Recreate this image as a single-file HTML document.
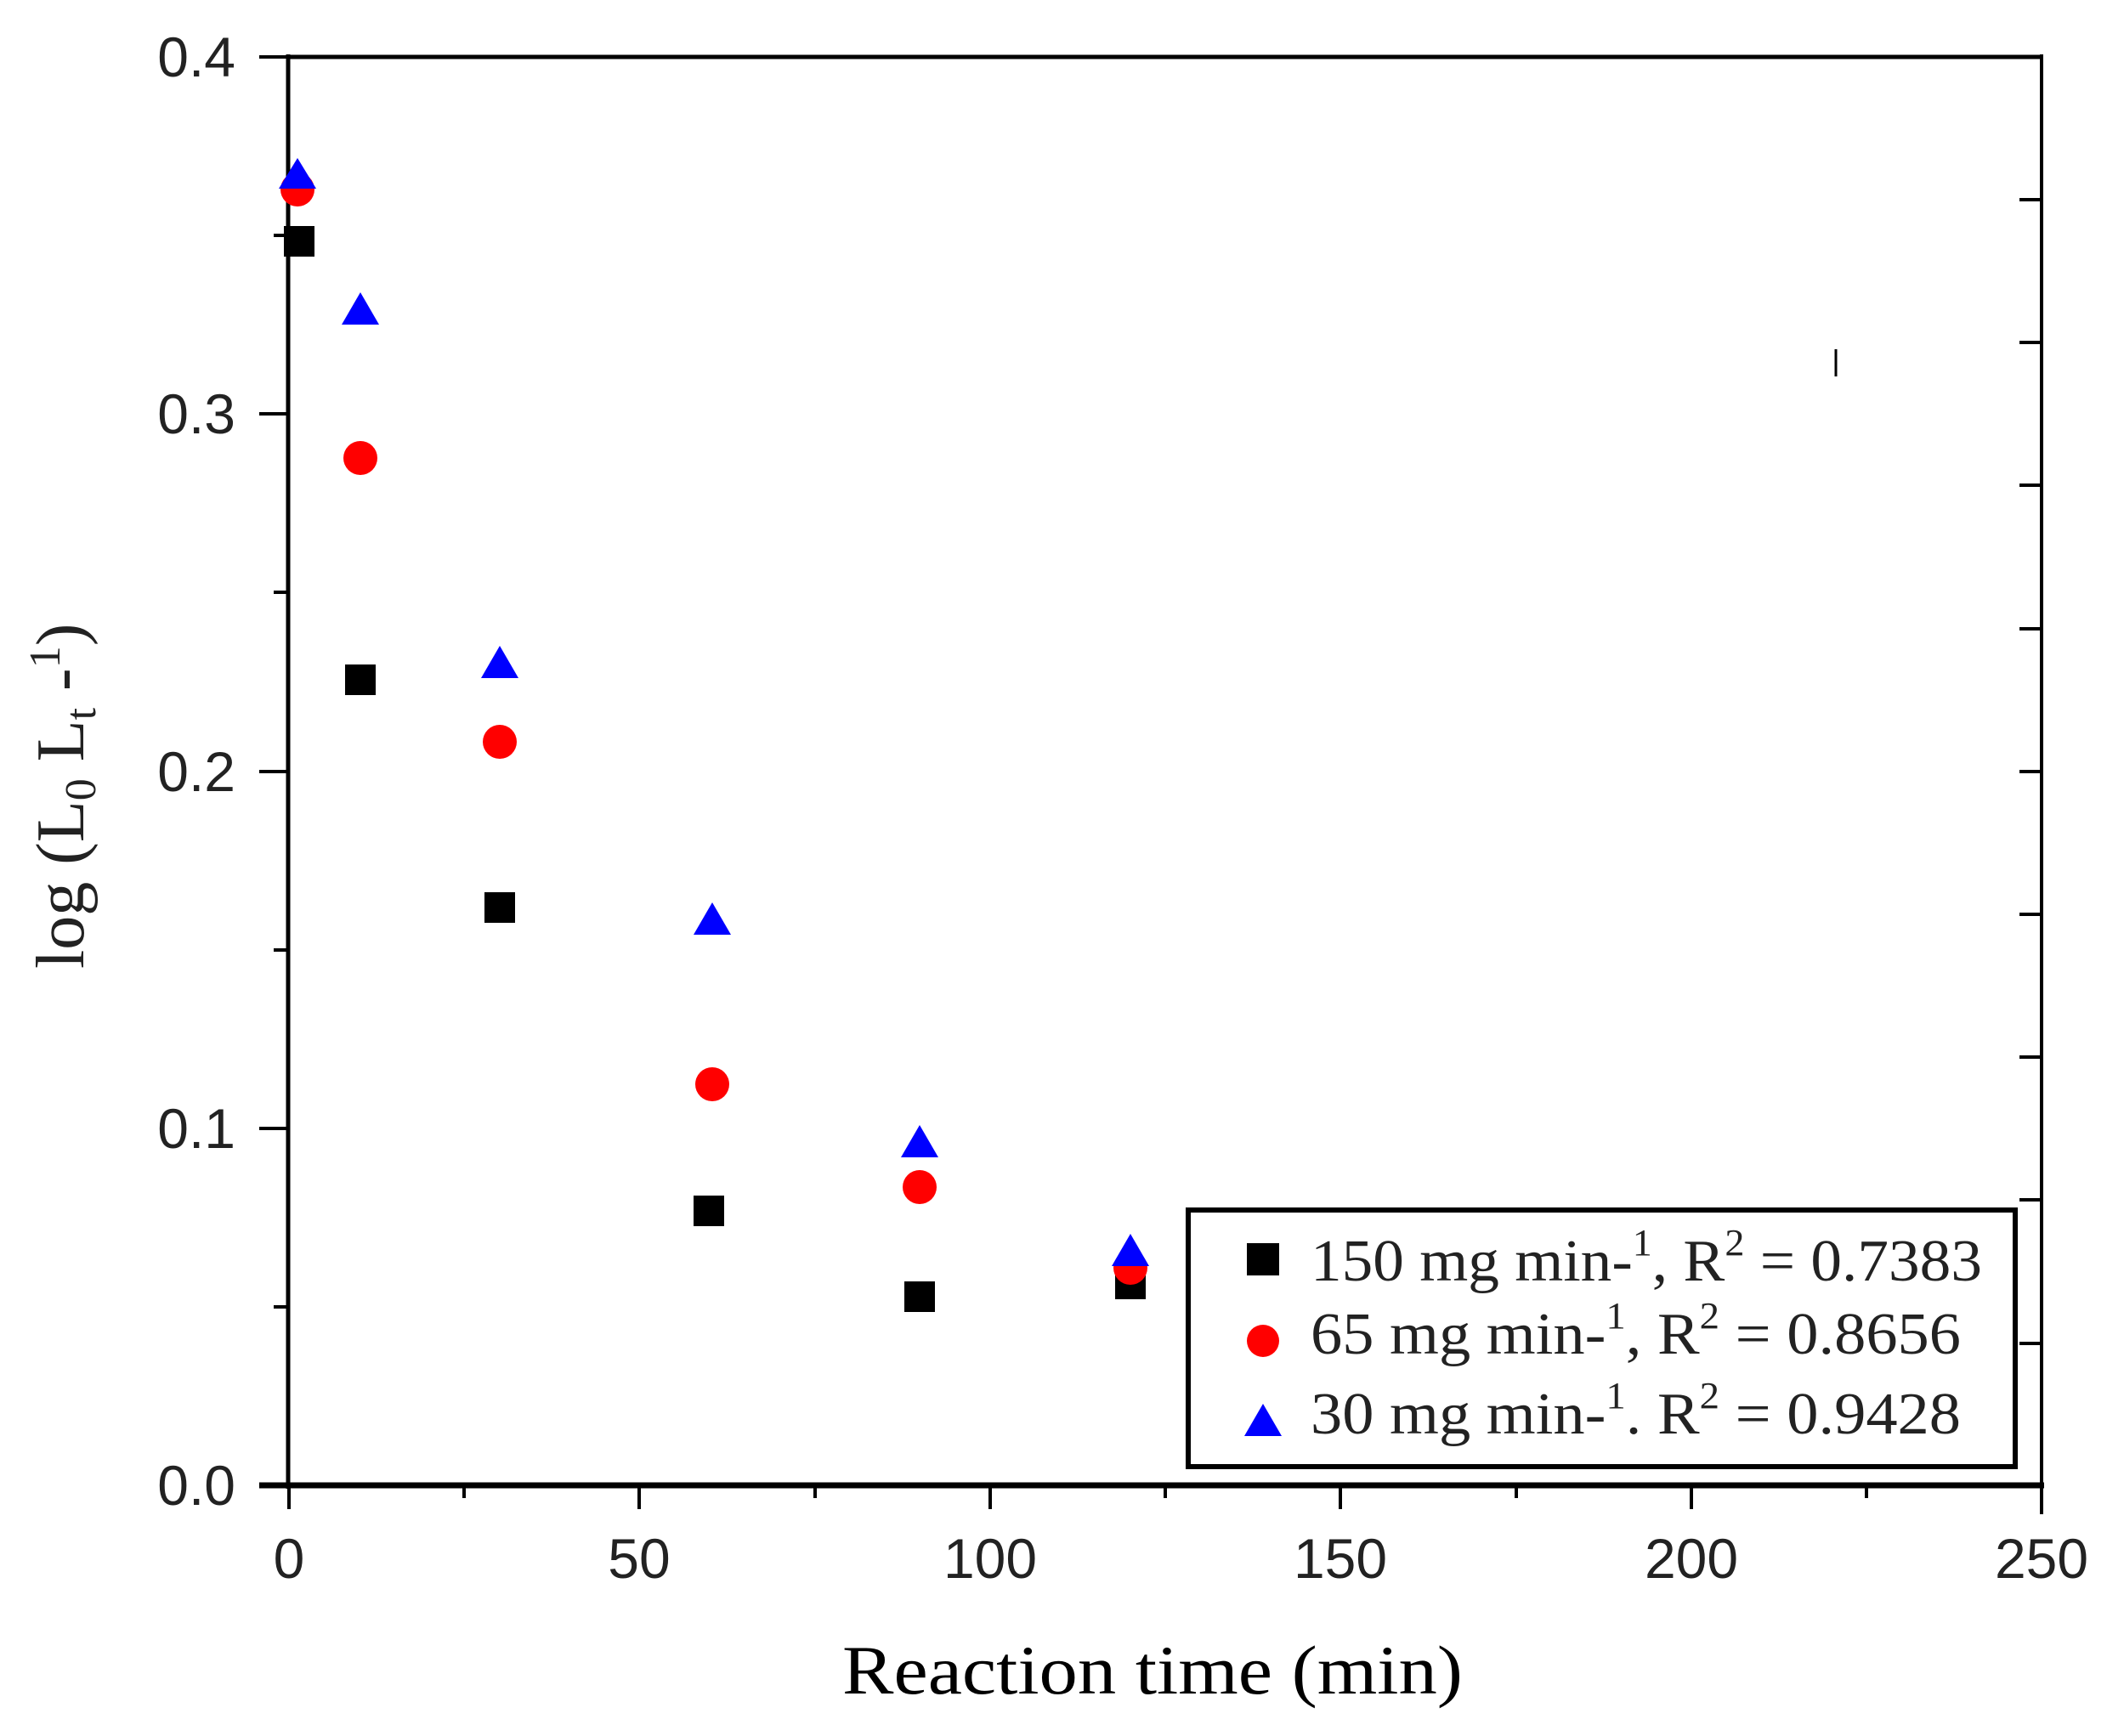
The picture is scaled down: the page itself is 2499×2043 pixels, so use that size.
<!DOCTYPE html>
<html><head><meta charset="utf-8"><style>html,body{margin:0;padding:0;background:#fff}svg{display:block}</style></head>
<body>
<svg width="2499" height="2043" viewBox="0 0 2499 2043" xmlns="http://www.w3.org/2000/svg">
<rect width="2499" height="2043" fill="#fff"/>
<g stroke="#000" fill="none">
  <line x1="340" y1="67" x2="2402" y2="67" stroke-width="5"/>
  <line x1="339" y1="64" x2="339" y2="1752" stroke-width="5"/>
  <line x1="2402" y1="64" x2="2402" y2="1752" stroke-width="4"/>
  <line x1="305" y1="1748" x2="2405" y2="1748" stroke-width="7"/>
  <!-- y ticks left major -->
  <path d="M305 67H339M305 487H339M305 908H339M305 1328H339" stroke-width="4"/>
  <path d="M322 277H339M322 697H339M322 1118H339M322 1538H339" stroke-width="4"/>
  <!-- x ticks -->
  <path d="M340 1748V1776M752 1748V1776M1165 1748V1776M1577 1748V1776M1990 1748V1776M2402 1748V1782" stroke-width="4"/>
  <path d="M546 1748V1763M959 1748V1763M1371 1748V1763M1784 1748V1763M2196 1748V1763" stroke-width="4"/>
  <!-- right inner ticks -->
  <path d="M2376 235H2402M2376 403H2402M2376 571H2402M2376 740H2402M2376 908H2402M2376 1076H2402M2376 1244H2402M2376 1412H2402M2376 1581H2402" stroke-width="4"/>
  <line x1="2160" y1="411" x2="2160" y2="443" stroke-width="3"/>
</g>
<g font-family="Liberation Sans, sans-serif" font-size="66" fill="#222">
  <g text-anchor="end">
    <text x="277" y="90">0.4</text>
    <text x="277" y="510">0.3</text>
    <text x="277" y="931">0.2</text>
    <text x="277" y="1351">0.1</text>
    <text x="277" y="1771">0.0</text>
  </g>
  <g text-anchor="middle">
    <text x="340" y="1857">0</text>
    <text x="752" y="1857">50</text>
    <text x="1165" y="1857">100</text>
    <text x="1577" y="1857">150</text>
    <text x="1990" y="1857">200</text>
    <text x="2402" y="1857">250</text>
  </g>
</g>
<text x="991" y="1993" font-family="Liberation Serif, serif" font-size="82" textLength="730" lengthAdjust="spacingAndGlyphs" fill="#000">Reaction time (min)</text>
<text transform="translate(98,1140) rotate(-90)" font-family="Liberation Serif, serif" font-size="80" fill="#222">log (L<tspan font-size="52" dy="14">0</tspan><tspan dy="-14"> L</tspan><tspan font-size="52" dy="14">t</tspan><tspan dy="-14"> -</tspan><tspan font-size="52" dy="-28">1</tspan><tspan dy="28">)</tspan></text>
<!-- data: black squares -->
<g fill="#000">
  <rect x="334" y="266" width="36" height="36"/>
  <rect x="406" y="782" width="36" height="36"/>
  <rect x="570" y="1050" width="36" height="36"/>
  <rect x="816" y="1407" width="36" height="36"/>
  <rect x="1064" y="1508" width="36" height="36"/>
  <rect x="1312" y="1493" width="36" height="36"/>
</g>
<g fill="#f00">
  <circle cx="350" cy="223" r="20"/>
  <circle cx="424" cy="539" r="20"/>
  <circle cx="588" cy="873" r="20"/>
  <circle cx="838" cy="1276" r="20"/>
  <circle cx="1082" cy="1397" r="20"/>
  <circle cx="1330" cy="1492" r="20"/>
</g>
<g fill="#00f">
  <polygon points="350,186 372,222 328,222"/>
  <polygon points="424,344 446,382 402,382"/>
  <polygon points="588,760 610,798 566,798"/>
  <polygon points="838,1062 860,1100 816,1100"/>
  <polygon points="1082,1324 1104,1362 1060,1362"/>
  <polygon points="1330,1452 1352,1490 1308,1490"/>
</g>
<!-- legend -->
<rect x="1398" y="1424" width="973" height="302" fill="#fff" stroke="#000" stroke-width="6"/>
<rect x="1467" y="1463" width="38" height="38" fill="#000"/>
<circle cx="1486" cy="1578" r="19" fill="#f00"/>
<polygon points="1486,1652 1508,1690 1464,1690" fill="#00f"/>
<g font-family="Liberation Serif, serif" font-size="70" fill="#222">
  <text x="1542" y="1507" textLength="790" lengthAdjust="spacingAndGlyphs">150 mg min-<tspan font-size="44" dy="-30">1</tspan><tspan dy="30">, R</tspan><tspan font-size="44" dy="-30">2</tspan><tspan dy="30"> = 0.7383</tspan></text>
  <text x="1542" y="1593" textLength="765" lengthAdjust="spacingAndGlyphs">65 mg min-<tspan font-size="44" dy="-30">1</tspan><tspan dy="30">, R</tspan><tspan font-size="44" dy="-30">2</tspan><tspan dy="30"> = 0.8656</tspan></text>
  <text x="1542" y="1687" textLength="765" lengthAdjust="spacingAndGlyphs">30 mg min-<tspan font-size="44" dy="-30">1</tspan><tspan dy="30">. R</tspan><tspan font-size="44" dy="-30">2</tspan><tspan dy="30"> = 0.9428</tspan></text>
</g>
</svg>
</body></html>
